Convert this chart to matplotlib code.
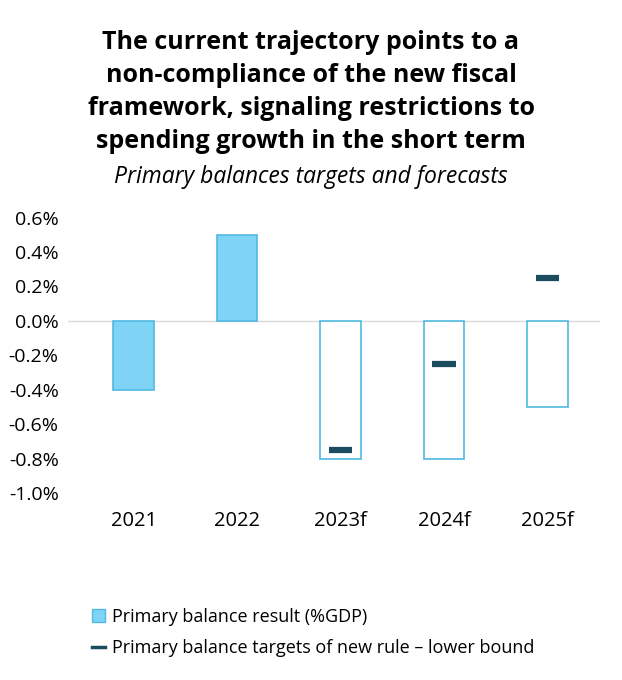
import matplotlib
matplotlib.use("Agg")
import numpy as np
import matplotlib.pyplot as plt
from matplotlib.lines import Line2D
from matplotlib.patches import Patch

years = ["2021", "2022", "2023f", "2024f", "2025f"]
result = [-0.4, 0.5, -0.8, -0.8, -0.5]
targets = [None, None, -0.75, -0.25, 0.25]
forecast = [False, False, True, True, True]
yticks = [0.6, 0.4, 0.2, 0.0, -0.2, -0.4, -0.6, -0.8, -1.0]

fill_col = "#7fd3f5"
edge_col = "#4fb9e3"
target_col = "#1b4b5e"

plt.rcParams['font.family'] = ['Open Sans', 'DejaVu Sans']

fig = plt.figure(figsize=(6.22, 6.8), dpi=100)
ax = fig.add_axes([0.11, 0.275, 0.855, 0.405])

x = np.arange(len(years))
for i, v in enumerate(result):
    face = "white" if forecast[i] else fill_col
    ax.bar(x[i], v, width=0.39, color=face, edgecolor=edge_col, linewidth=1.2, zorder=2)

for i, t in enumerate(targets):
    if t is not None:
        ax.plot([x[i] - 0.115, x[i] + 0.115], [t, t], color=target_col,
                linewidth=4.5, solid_capstyle="butt", zorder=3)

ax.axhline(0, color="#d9d9d9", linewidth=1, zorder=1)
ax.set_xlim(-0.63, 4.51)
ax.set_ylim(-1.0, 0.6)
ax.set_yticks(yticks)
ax.set_yticklabels([f"{v:.1f}%" for v in yticks], fontsize=14)
ax.set_xticks(x)
ax.set_xticklabels(years, fontsize=14.5)
ax.tick_params(length=0, pad=7)
ax.tick_params(axis='x', pad=13)
for s in ax.spines.values():
    s.set_visible(False)

fig.text(0.5, 0.956, "The current trajectory points to a\nnon-compliance of the new fiscal\n"
         "framework, signaling restrictions to\nspending growth in the short term",
         ha="center", va="top", fontsize=18, fontweight="bold", linespacing=1.42)
fig.text(0.5, 0.74, "Primary balances targets and forecasts", ha="center", va="center",
         fontsize=16.5, style="italic")

handles = [Patch(facecolor=fill_col, edgecolor=edge_col, label="Primary balance result (%GDP)"),
           Line2D([0], [0], color=target_col, linewidth=2.5,
                  label="Primary balance targets of new rule \u2013 lower bound")]
fig.legend(handles=handles, loc="upper left", bbox_to_anchor=(0.122, 0.13), frameon=False,
           fontsize=13, handlelength=0.7, handletextpad=0.4, labelspacing=0.75)

fig.savefig("out.png", dpi=100)
